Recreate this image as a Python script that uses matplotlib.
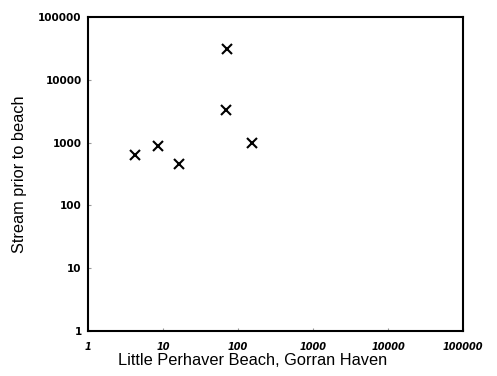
import matplotlib
matplotlib.use("Agg")
import matplotlib.pyplot as plt
from matplotlib.ticker import FixedLocator, FixedFormatter, NullLocator

beach = [4.2, 8.6, 16.3, 69, 71, 154]
stream = [633, 880, 457, 3300, 31000, 985]
tick_vals = [1, 10, 100, 1000, 10000, 100000]
tick_labels = ["1", "10", "100", "1000", "10000", "100000"]

plt.rcParams['font.family'] = ['Liberation Sans', 'DejaVu Sans']

fig = plt.figure(figsize=(4.97, 3.76), dpi=100)
ax = fig.add_axes([88/497, 45/376, 375/497, 314/376])
ax.set_xscale('log')
ax.set_yscale('log')
ax.set_xlim(1, 100000)
ax.set_ylim(1, 100000)

ax.plot(beach, stream, linestyle='none', marker='x', color='black',
        markersize=6.5, markeredgewidth=1.5)

ax.xaxis.set_major_locator(FixedLocator(tick_vals))
ax.xaxis.set_major_formatter(FixedFormatter(tick_labels))
ax.yaxis.set_major_locator(FixedLocator(tick_vals))
ax.yaxis.set_major_formatter(FixedFormatter(tick_labels))
ax.xaxis.set_minor_locator(NullLocator())
ax.yaxis.set_minor_locator(NullLocator())

ax.tick_params(axis='both', direction='in', length=2, width=0.8, color='#999999')
for lab in ax.get_xticklabels():
    lab.set_family('DejaVu Sans')
    lab.set_fontsize(7)
    lab.set_fontweight('bold')
    lab.set_fontstyle('italic')
for lab in ax.get_yticklabels():
    lab.set_family('DejaVu Sans')
    lab.set_fontsize(7.5)
    lab.set_fontweight('bold')
ax.tick_params(axis='x', pad=8)
ax.tick_params(axis='y', pad=4.5)

for s in ax.spines.values():
    s.set_linewidth(1.5)
    s.set_color('black')

ax.set_xlabel("Little Perhaver Beach, Gorran Haven", fontsize=11.8, labelpad=2)
ax.set_ylabel("Stream prior to beach", fontsize=11.8, labelpad=8)
ax.xaxis.set_label_coords(0.44, -22/314)

fig.savefig("out.png", dpi=100)
